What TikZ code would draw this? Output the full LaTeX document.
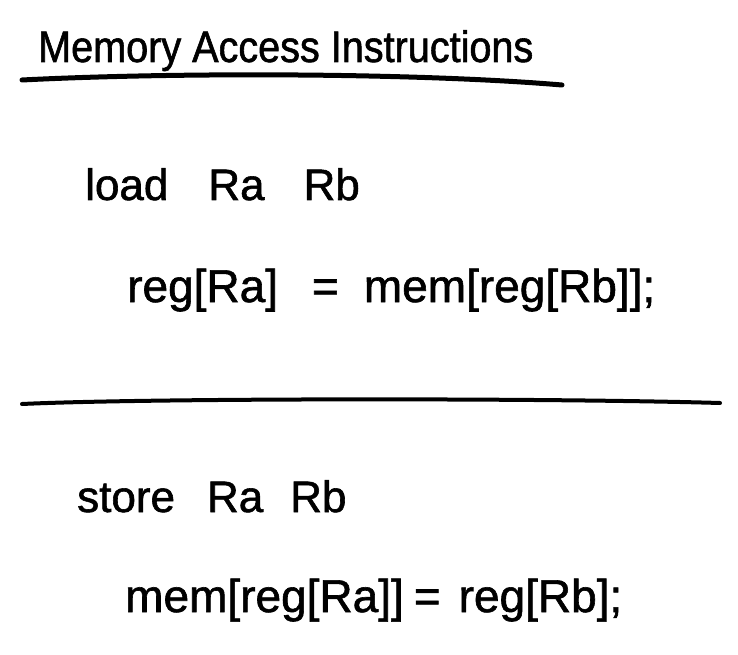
\documentclass[tikz,border=0pt]{standalone}
\usepackage{fontspec}
\setmainfont[FakeBold=1.3]{Liberation Sans}
\newfontfamily\titlefont[FakeStretch=0.9,FakeBold=1.3]{Liberation Sans}
\begin{document}
\begin{tikzpicture}[x=1pt,y=-1pt,
  ttl/.style={font=\titlefont\fontsize{44}{48}\selectfont, inner sep=0pt, anchor=base west},
  txt/.style={font=\fontsize{44}{48}\selectfont, inner sep=0pt, anchor=base west},
  optxt/.style={font=\fontsize{46}{50}\selectfont, inner sep=0pt, anchor=base west},
  rulepen/.style={line width=5pt, line cap=round},
  seppen/.style={line width=4pt, line cap=round}]
\useasboundingbox (0,0) rectangle (738,655);
\node[ttl] (title) at (38,62) {Memory Access Instructions};
\coordinate (u1) at (22,80);
\coordinate (u2) at (562,85);
\draw[rulepen] (u1) .. controls (180,72) and (420,73) .. (u2);
\node[txt] (load) at (85,200) {load\hspace{40pt}Ra\hspace{39pt}Rb};
\node[optxt] (loadop) at (127,302) {reg[Ra]\hspace{34pt}=\hspace{25pt}mem[reg[Rb]];};
\coordinate (s1) at (22,404);
\coordinate (s2) at (720,403);
\draw[seppen] (s1) .. controls (150,398) and (550,398) .. (s2);
\node[txt] (store) at (77,512) {store\hspace{32pt}Ra\hspace{27pt}Rb};
\node[optxt] (storeop) at (125,612) {mem[reg[Ra]]\hspace{10pt}=\hspace{18pt}reg[Rb];};
\end{tikzpicture}
\end{document}
